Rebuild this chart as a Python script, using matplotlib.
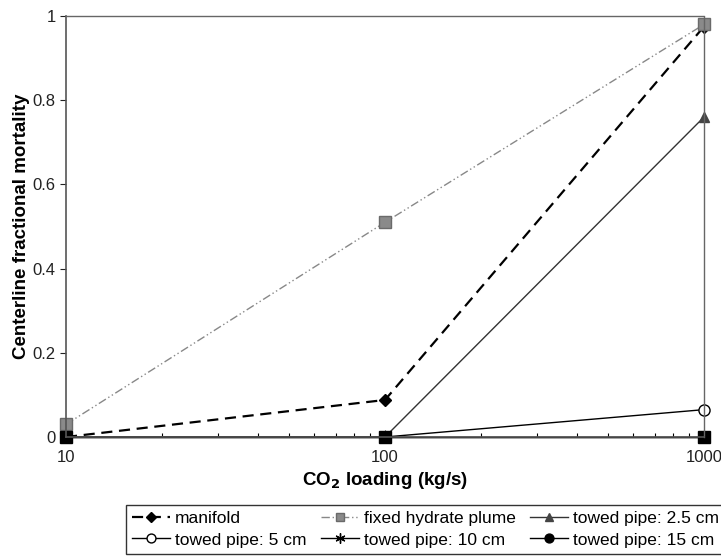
import matplotlib
matplotlib.use("Agg")
import matplotlib.pyplot as plt
from matplotlib.ticker import FixedLocator, NullFormatter, LogLocator

plt.rcParams['font.family'] = ['Liberation Sans', 'DejaVu Sans']

loading = [10, 100, 1000]
manifold = [0.0, 0.088, 0.975]
fixed_plume = [0.03, 0.51, 0.98]
towed_2_5 = [0.0, 0.0, 0.76]
towed_5 = [0.0, 0.0, 0.065]
towed_10 = [0.0, 0.0, 0.0]
towed_15 = [0.0, 0.0, 0.0]

y_ticks = [0, 0.2, 0.4, 0.6, 0.8, 1.0]
y_labels = ["0", "0.2", "0.4", "0.6", "0.8", "1"]
x_ticks = [10, 100, 1000]
x_labels = ["10", "100", "1000"]

fig = plt.figure(figsize=(7.21, 5.59), dpi=100)
ax = fig.add_axes([66/721, 1-437/559, (704-66)/721, (437-16)/559])

h_man, = ax.plot(loading, manifold, color='black', ls=(0, (5, 3)), lw=1.6,
                 marker='D', ms=6, mfc='black', mec='black', label='manifold')
h_fix, = ax.plot(loading, fixed_plume, color='#888888', ls=(0, (6, 2, 1, 2, 1, 2)), lw=1.0,
                 marker='s', ms=8, mfc='#8a8a8a', mec='#6a6a6a', label='fixed hydrate plume')
h_25, = ax.plot(loading, towed_2_5, color='#333333', ls='-', lw=1.0,
                marker='^', ms=7, mfc='#444444', mec='#444444', label='towed pipe: 2.5 cm')
h_5, = ax.plot(loading, towed_5, color='black', ls='-', lw=1.0,
               marker='o', ms=8, mfc='white', mec='black', label='towed pipe: 5 cm')
h_10, = ax.plot(loading, towed_10, color='black', ls='-', lw=1.0,
                marker=(6, 2, 0), ms=9, mfc='black', mec='black', label='towed pipe: 10 cm')
h_15, = ax.plot(loading, towed_15, color='black', ls='-', lw=1.0,
                marker='o', ms=8, mfc='black', mec='black', label='towed pipe: 15 cm')
# squares visible at overlapping zero points
ax.plot(loading, towed_15, ls='none', marker='s', ms=8, mfc='black', mec='black')

ax.set_xscale('log')
ax.set_xlim(10, 1000)
ax.set_ylim(0, 1)
ax.xaxis.set_major_locator(FixedLocator(x_ticks))
ax.set_xticklabels(x_labels)
ax.xaxis.set_minor_locator(LogLocator(base=10, subs=range(2, 10)))
ax.xaxis.set_minor_formatter(NullFormatter())
ax.set_yticks(y_ticks)
ax.set_yticklabels(y_labels)

ax.tick_params(axis='both', which='major', labelsize=12, colors='#222222', length=4, width=0.8)
ax.tick_params(axis='x', which='major', direction='in', length=5, pad=9)
ax.tick_params(axis='x', which='minor', direction='in', length=3, width=0.8)
ax.tick_params(axis='y', which='major', direction='out', length=4)

for s in ['left', 'bottom']:
    ax.spines[s].set_color('#555555')
    ax.spines[s].set_linewidth(1.2)
for s in ['top', 'right']:
    ax.spines[s].set_color('#666666')
    ax.spines[s].set_linewidth(1.0)
    ax.spines[s].set_linestyle((0, (1, 1)))
for l in ax.lines:
    l.set_clip_on(False)

ax.set_ylabel('Centerline fractional mortality', fontsize=13.5, fontweight='bold', labelpad=2)
ax.set_xlabel('CO$_\\mathbf{2}$ loading (kg/s)', fontsize=13.5, fontweight='bold', labelpad=4)

handles = [h_man, h_5, h_fix, h_10, h_25, h_15]
leg = fig.legend(handles=handles, labels=[h.get_label() for h in handles],
                 ncol=3, loc='center', bbox_to_anchor=(0.59, 0.053),
                 fontsize=12.5, frameon=True, fancybox=False, edgecolor='black',
                 handlelength=2.2, handletextpad=0.3, columnspacing=0.8,
                 borderpad=0.35, labelspacing=0.35, markerscale=0.8)
leg.get_frame().set_linewidth(1.0)

fig.savefig('out.png', dpi=100)
